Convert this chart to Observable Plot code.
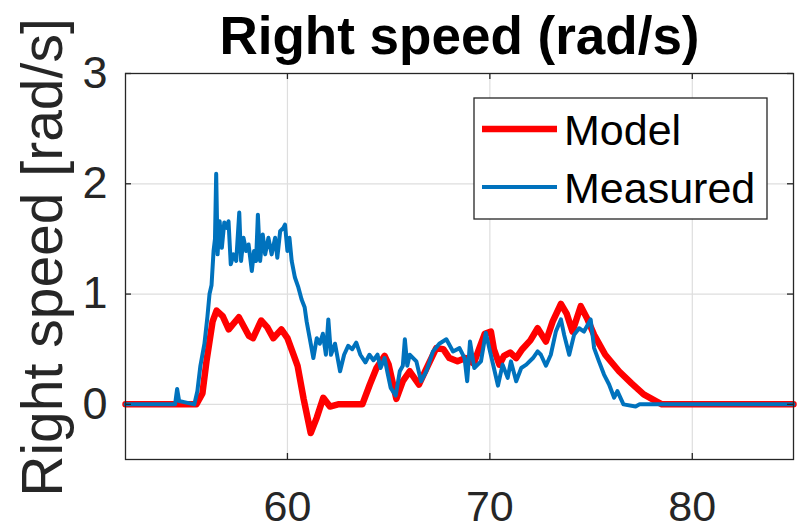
<!DOCTYPE html>
<html><head><meta charset="utf-8">
<script src="https://cdn.jsdelivr.net/npm/d3@7"></script>
<script src="https://cdn.jsdelivr.net/npm/@observablehq/plot@0.6"></script>
<style>
body{margin:0;background:#fff;}
#wrap{width:798px;height:530px;}
</style></head><body><div id="wrap"></div>
<script>
const title = "Right speed (rad/s)";
const yLabel = "Right speed [rad/s]";
const seriesNames = ["Model", "Measured"];
const seriesColors = ["#ff0000", "#0072bd"];
const xTicks = [60, 70, 80];
const yTicks = [0, 1, 2, 3];

const modelT = [52,55.5,55.8,56.0,56.3,56.5,56.8,57.1,57.6,58.1,58.3,58.7,59.0,59.3,59.7,60.0,60.3,60.5,60.8,61.15,61.45,61.77,62.1,62.5,63.7,64.07,64.4,64.8,65.0,65.38,65.7,66.04,66.5,66.8,67.35,67.7,68.0,68.4,68.8,69.2,69.5,69.75,70.05,70.2,70.47,70.7,71.0,71.3,71.6,72.0,72.36,72.77,73.1,73.51,73.8,74.08,74.49,74.8,75.15,75.7,76.38,77.0,77.6,78.2,78.5,85];
const modelV = [0,0,0.1,0.39,0.75,0.85,0.8,0.68,0.79,0.62,0.6,0.76,0.7,0.6,0.68,0.6,0.45,0.35,0.05,-0.26,-0.12,0.06,-0.02,0,0,0.18,0.33,0.44,0.36,0.05,0.21,0.3,0.18,0.3,0.51,0.5,0.42,0.39,0.42,0.37,0.52,0.64,0.66,0.5,0.36,0.44,0.47,0.42,0.5,0.58,0.69,0.57,0.75,0.91,0.82,0.66,0.89,0.78,0.63,0.45,0.3,0.19,0.09,0.03,0,0];

const measT = [52,54.45,54.55,54.65,54.9,55.4,55.55,55.7,55.9,56.05,56.15,56.25,56.35,56.42,56.48,56.55,56.65,56.76,56.88,57.01,57.09,57.2,57.34,57.47,57.62,57.71,57.83,57.96,58.08,58.24,58.35,58.45,58.54,58.65,58.78,58.9,59.06,59.22,59.39,59.5,59.64,59.8,59.88,60.0,60.1,60.21,60.37,60.54,60.7,60.85,60.95,61.1,61.28,61.45,61.6,61.75,61.9,62.02,62.15,62.35,62.6,62.8,63.0,63.2,63.4,63.6,63.85,64.05,64.25,64.45,64.6,64.8,64.95,65.1,65.35,65.55,65.7,65.8,65.92,66.04,66.37,66.6,66.86,67.19,67.5,67.85,68.18,68.5,68.75,68.88,69.02,69.23,69.56,69.8,69.97,70.2,70.4,70.63,70.88,71.04,71.3,71.55,71.8,72.13,72.36,72.52,72.77,73.01,73.26,73.51,73.67,73.92,74.16,74.41,74.65,74.98,75.15,75.39,75.64,75.89,76.14,76.3,76.6,77.2,77.4,85];
const measV = [0,0,0.14,0.03,0.02,0,0.12,0.35,0.55,0.8,1.0,1.08,1.39,1.5,2.09,1.36,1.66,1.42,1.65,1.6,1.66,1.27,1.36,1.3,1.74,1.3,1.51,1.39,1.45,1.21,1.39,1.3,1.72,1.3,1.54,1.36,1.51,1.36,1.51,1.33,1.57,1.6,1.63,1.39,1.51,1.3,1.15,1.06,0.95,0.88,0.75,0.6,0.42,0.6,0.55,0.64,0.45,0.77,0.45,0.55,0.3,0.45,0.53,0.5,0.56,0.45,0.38,0.45,0.4,0.45,0.33,0.42,0.28,0.15,0.08,0.3,0.35,0.59,0.35,0.45,0.39,0.21,0.3,0.48,0.55,0.59,0.48,0.51,0.42,0.21,0.57,0.33,0.39,0.65,0.51,0.33,0.17,0.36,0.24,0.39,0.21,0.33,0.36,0.42,0.48,0.45,0.35,0.45,0.66,0.77,0.63,0.45,0.63,0.69,0.66,0.77,0.51,0.39,0.27,0.18,0.06,0.12,0,-0.02,0,0];

const model = modelT.map((t, i) => ({t, v: modelV[i]}));
const meas = measT.map((t, i) => ({t, v: measV[i]}));

const font = "'Liberation Sans', Arial, Helvetica, sans-serif";
const axisColor = "#262626";
const gridColor = "#dedede";

const plot = Plot.plot({
  width: 798, height: 530,
  marginLeft: 125, marginRight: 5, marginTop: 73, marginBottom: 71,
  style: {fontFamily: font, background: "white", color: axisColor},
  x: {domain: [52, 85], label: null},
  y: {domain: [-0.5, 3], label: null},
  marks: [
    Plot.gridX(xTicks, {stroke: gridColor, strokeOpacity: 1, strokeWidth: 1.2}),
    Plot.gridY(yTicks, {stroke: gridColor, strokeOpacity: 1, strokeWidth: 1.2}),
    Plot.line(model, {x: "t", y: "v", stroke: seriesColors[0], strokeWidth: 6.5}),
    Plot.line(meas, {x: "t", y: "v", stroke: seriesColors[1], strokeWidth: 4}),
    Plot.frame({stroke: axisColor, strokeWidth: 1.3}),
    Plot.ruleX(xTicks, {x: d => d, y1: -0.5, y2: -0.5, insetTop: -6, stroke: axisColor, strokeWidth: 1.3}),
    Plot.ruleX(xTicks, {x: d => d, y1: 3, y2: 3, insetBottom: -6, stroke: axisColor, strokeWidth: 1.3}),
    Plot.ruleY(yTicks, {y: d => d, x1: 52, x2: 52, insetRight: -6, stroke: axisColor, strokeWidth: 1.3}),
    Plot.ruleY(yTicks, {y: d => d, x1: 85, x2: 85, insetLeft: -6, stroke: axisColor, strokeWidth: 1.3}),
    Plot.axisX(xTicks, {anchor: "bottom", tickSize: 0, tickPadding: 31, fontSize: 43, fill: axisColor, tickFormat: d => String(d)}),
    Plot.axisY(yTicks, {anchor: "left", tickSize: 0, tickPadding: 18, fontSize: 45, fill: axisColor, tickFormat: d => String(d)}),
    Plot.text([yLabel], {frameAnchor: "left", rotate: -90, dx: -82, dy: -9, fontSize: 57, textAnchor: "middle", lineAnchor: "middle", fill: axisColor}),
    Plot.text([title], {frameAnchor: "top", dy: -20, fontSize: 53, fontWeight: "bold", textAnchor: "middle", lineAnchor: "bottom", fill: "#000"})
  ]
});
document.getElementById("wrap").appendChild(plot);

// legend
const svg = d3.select(plot);
const lg = svg.append("g").attr("transform", "translate(474,98)");
lg.append("rect").attr("width", 293).attr("height", 121).attr("fill", "#fff").attr("stroke", axisColor).attr("stroke-width", 1.3);
const rowsY = [31, 89];
const widths = [6.5, 4];
seriesNames.forEach((name, i) => {
  lg.append("line").attr("x1", 8).attr("x2", 83).attr("y1", rowsY[i]).attr("y2", rowsY[i])
    .attr("stroke", seriesColors[i]).attr("stroke-width", widths[i]);
  lg.append("text").attr("x", 90).attr("y", rowsY[i] + 16).attr("font-size", 43)
    .attr("text-anchor", "start").attr("font-family", font).attr("fill", "#000").text(name);
});
</script>
</body></html>
